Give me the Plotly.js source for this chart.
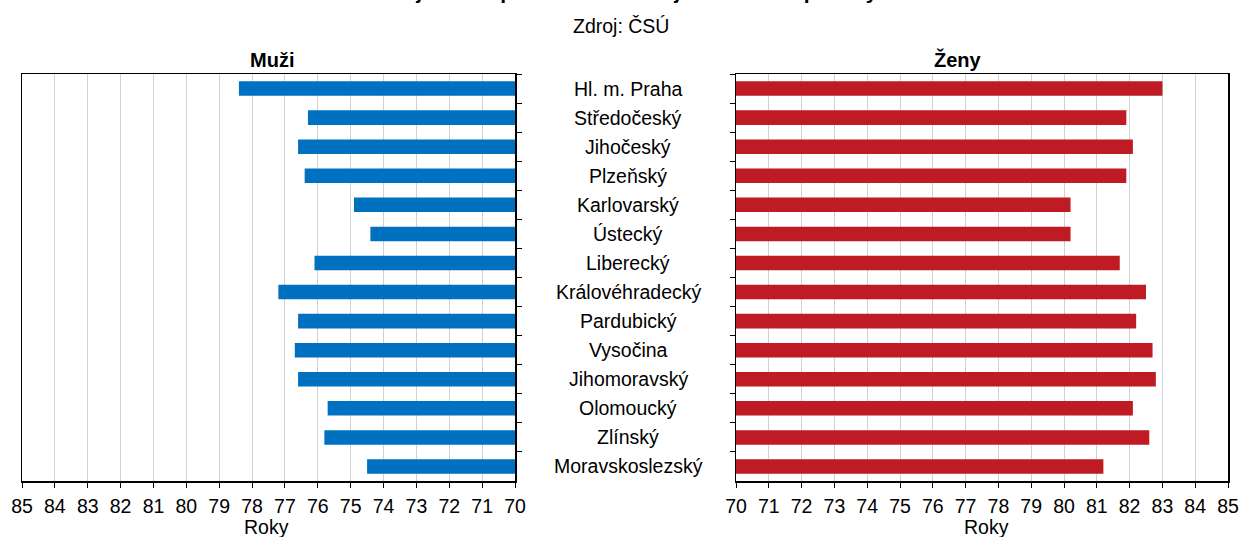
<!DOCTYPE html>
<html>
<head>
<meta charset="utf-8">
<script src="https://cdn.plot.ly/plotly-3.0.1.min.js"></script>
<style>html,body{margin:0;padding:0;background:#fff;}#chart{width:1241px;height:537px;}</style>
</head>
<body>
<div id="chart"></div>
<script>
const regions = ["Hl. m. Praha","Středočeský","Jihočeský","Plzeňský","Karlovarský","Ústecký","Liberecký","Královéhradecký","Pardubický","Vysočina","Jihomoravský","Olomoucký","Zlínský","Moravskoslezský"];
const men = [78.4, 76.3, 76.6, 76.4, 74.9, 74.4, 76.1, 77.2, 76.6, 76.7, 76.6, 75.7, 75.8, 74.5];
const women = [83.0, 81.9, 82.1, 81.9, 80.2, 80.2, 81.7, 82.5, 82.2, 82.7, 82.8, 82.1, 82.6, 81.2];
const menTicks = [85,84,83,82,81,80,79,78,77,76,75,74,73,72,71,70];
const womenTicks = [70,71,72,73,74,75,76,77,78,79,80,81,82,83,84,85];
const menLabel = "Muži";
const womenLabel = "Ženy";
const axisTitle = "Roky";
const source = "Zdroj: ČSÚ";
const mainTitle = "Naděje dožití při narození v krajích České republiky";

const W = 1241;
const FAM = "Liberation Sans, Arial, sans-serif";
const font = {family: FAM, size: 19.5, color: "#000"};

const traces = [
  {type: "bar", orientation: "h", y: regions, x: men, xaxis: "x", yaxis: "y",
   marker: {color: "#0070c0", line: {width: 0}}, width: 0.5, hoverinfo: "x+y", name: menLabel},
  {type: "bar", orientation: "h", y: regions, x: women, xaxis: "x2", yaxis: "y2",
   marker: {color: "#be1b24", line: {width: 0}}, width: 0.5, hoverinfo: "x+y", name: womenLabel}
];

const xCommon = {
  showgrid: true, gridcolor: "#d0d0d0", gridwidth: 1,
  showline: true, linecolor: "#000", linewidth: 1.5, mirror: true,
  ticks: "outside", ticklen: 5, tickcolor: "#000", tickwidth: 1,
  tickfont: font, ticklabelstandoff: 2, zeroline: false, automargin: false
};
const yCommon = {
  type: "category", autorange: "reversed", showgrid: false,
  showline: true, linecolor: "#000", linewidth: 1.5, mirror: true,
  ticks: "outside", tickson: "boundaries", ticklen: 5, tickcolor: "#000",
  showticklabels: false, zeroline: false
};

const annotations = regions.map(r => ({
  xref: "paper", yref: "y", x: 628 / W, y: r, text: r, showarrow: false,
  xanchor: "center", yanchor: "middle", font: font
}));
annotations.push(
  {xref: "paper", yref: "paper", x: 272 / W, y: 1, yanchor: "bottom", xanchor: "center", yshift: 1,
   text: "<b>" + menLabel + "</b>", showarrow: false, font: {family: FAM, size: 20, color: "#000"}},
  {xref: "paper", yref: "paper", x: 958 / W, y: 1, yanchor: "bottom", xanchor: "center", yshift: 1,
   text: "<b>" + womenLabel + "</b>", showarrow: false, font: {family: FAM, size: 20, color: "#000"}},
  {xref: "paper", yref: "paper", x: 621 / W, y: 1, yanchor: "bottom", xanchor: "center", yshift: 35,
   text: source, showarrow: false, font: {family: FAM, size: 19.5, color: "#000"}},
  {xref: "paper", yref: "paper", x: 621 / W, y: 1, yanchor: "bottom", xanchor: "center", yshift: 69,
   text: "<b>" + mainTitle + "</b>", showarrow: false, font: {family: FAM, size: 21, color: "#000"}},
  {xref: "paper", yref: "paper", x: 266 / W, y: 0, yanchor: "top", xanchor: "center", yshift: -33,
   text: axisTitle, showarrow: false, font: font},
  {xref: "paper", yref: "paper", x: 986 / W, y: 0, yanchor: "top", xanchor: "center", yshift: -33,
   text: axisTitle, showarrow: false, font: font}
);

const layout = {
  width: 1241, height: 537,
  margin: {l: 0, r: 0, t: 74, b: 56, pad: 0},
  paper_bgcolor: "#fff", plot_bgcolor: "#fff",
  showlegend: false,
  font: font,
  xaxis: Object.assign({}, xCommon, {domain: [22 / W, 515 / W], range: [85, 70], anchor: "y", tickvals: menTicks}),
  yaxis: Object.assign({}, yCommon, {side: "right", anchor: "x"}),
  xaxis2: Object.assign({}, xCommon, {domain: [736 / W, 1228 / W], range: [70, 85], anchor: "y2", tickvals: womenTicks}),
  yaxis2: Object.assign({}, yCommon, {side: "left", anchor: "x2"}),
  bargap: 0.5,
  annotations: annotations
};

Plotly.newPlot("chart", traces, layout, {displayModeBar: false, staticPlot: true});
</script>
</body>
</html>
